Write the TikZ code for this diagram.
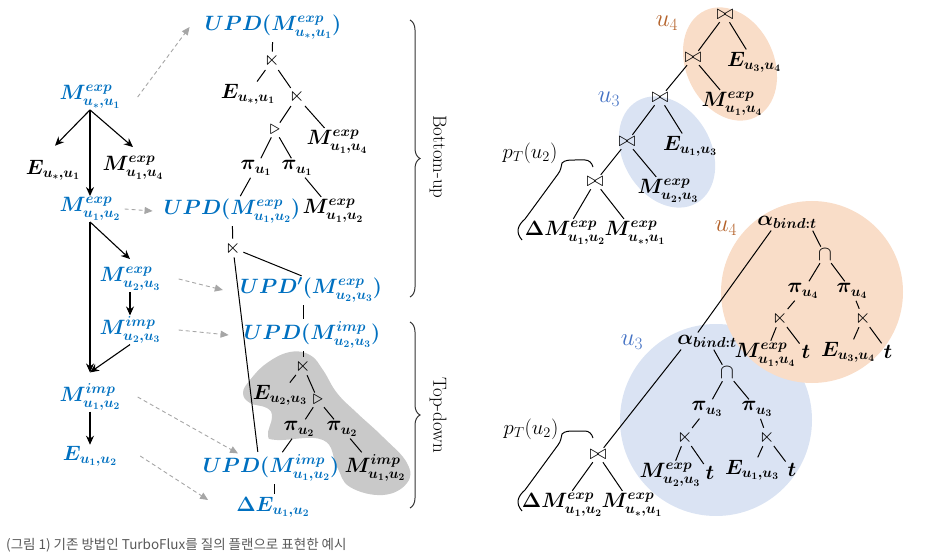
\documentclass[tikz,border=0pt]{standalone}
\usepackage{amssymb}
\usepackage{fontspec}
\newfontfamily\kofont{Noto Sans CJK KR}
\usetikzlibrary{arrows.meta, decorations.pathreplacing}
\definecolor{myblue}{HTML}{0070C0}
\definecolor{flowgray}{HTML}{A6A6A6}
\definecolor{blobgray}{HTML}{C9C9C9}
\definecolor{orfill}{HTML}{F9DDC8}
\definecolor{bufill}{HTML}{DAE3F3}
\definecolor{ufour}{HTML}{B4622A}
\definecolor{uthree}{HTML}{4472C4}
\definecolor{capgray}{HTML}{595959}
\tikzstyle{blu} = [text=myblue, inner sep=1pt, font=\fontsize{20}{24}\selectfont\boldmath]
\tikzstyle{blk} = [text=black, inner sep=1pt, font=\fontsize{20}{24}\selectfont\boldmath]
\tikzstyle{opnode} = [inner sep=1pt, font=\fontsize{20}{24}\selectfont]
\tikzstyle{ulabfour} = [text=ufour, inner sep=1pt, font=\fontsize{23}{26}\selectfont]
\tikzstyle{ulabthree} = [text=uthree, inner sep=1pt, font=\fontsize{23}{26}\selectfont]
\tikzstyle{ptlab} = [inner sep=1pt, font=\fontsize{22}{26}\selectfont]
\tikzstyle{sidelab} = [inner sep=1pt, font=\fontsize{19}{22}\selectfont]
\tikzstyle{dep} = [-{Stealth[length=9pt,width=8pt]}, line width=1.1pt]
\tikzstyle{flow} = [-{Triangle[length=8pt,width=7pt]}, flowgray, dashed, dash pattern=on 4pt off 3pt, line width=0.9pt]
\tikzstyle{br} = [line width=1pt, shorten <=1.5pt, shorten >=1.5pt]
\tikzstyle{bracket} = [decorate, decoration={brace, amplitude=10pt}, line width=1pt, black!80]

\begin{document}
\begin{tikzpicture}[x=1pt, y=-1pt]
\useasboundingbox (0,0) rectangle (926,556);

% backgrounds
\fill[blobgray] plot[smooth cycle, tension=0.7] coordinates {(243,393) (250,403) (267,408) (272,417) (268,435) (277,440) (323,440) (337,467) (350,487) (383,495) (407,483) (407,463) (383,437) (357,413) (337,393) (323,370) (310,355) (290,352) (267,363) (250,380)};
\fill[orfill, rotate around={25:(730,64)}] (730,64) ellipse (44 and 59);
\fill[bufill, rotate around={30:(667,152)}] (667,152) ellipse (44 and 59);
\fill[bufill] (716,420) circle (96);
\fill[orfill] (812,292) circle (91);

% left column
\node (mstar) [blu] at (90,97) {$M^{exp}_{u_*,u_1}$};
\node (estar) [blk] at (53,170) {$E_{u_*,u_1}$};
\node (m14a) [blk] at (133,168) {$M^{exp}_{u_1,u_4}$};
\node (m12) [blu] at (90,209) {$M^{exp}_{u_1,u_2}$};
\node (m23) [blu] at (130,279) {$M^{exp}_{u_2,u_3}$};
\node (i23) [blu] at (130,330) {$M^{imp}_{u_2,u_3}$};
\node (i12) [blu] at (90,397) {$M^{imp}_{u_1,u_2}$};
\node (e12) [blu] at (90,456) {$E_{u_1,u_2}$};

\draw[dep] (mstar.south) -- ([xshift=2pt,yshift=13pt]estar.north);
\draw[dep] (mstar.south) -- ([yshift=8pt]m14a.north);
\draw[dep] (mstar.south) -- (m12.north);
\draw[dep] (m12.south) -- ([yshift=10pt]i12.north);
\draw[dep] (m12.south) -- ([yshift=7pt]m23.north);
\draw[dep] (m23.south) -- (i23.north);
\draw[dep] (i23.south) -- ([yshift=10pt]i12.north);
\draw[dep] (i12.south) -- (e12.north);

% middle tree
\node (upda) [blu] at (273,27) {$UPD(M^{exp}_{u_*,u_1})$};
\node (sja) [opnode] at (272,61) {$\ltimes$};
\node (estr) [blk] at (248,94) {$E_{u_*,u_1}$};
\node (sjb) [opnode] at (297,97) {$\ltimes$};
\node (tra) [opnode] at (275,130) {$\triangleright$};
\node (m14b) [blk] at (337,142) {$M^{exp}_{u_1,u_4}$};
\node (pia) [blk] at (256,168) {$\pi_{u_1}$};
\node (pib) [blk] at (297,168) {$\pi_{u_1}$};
\node (upd12) [blu] at (232,211) {$UPD(M^{exp}_{u_1,u_2})$};
\node (m12b) [blk] at (333,211) {$M^{exp}_{u_1,u_2}$};
\node (sjc) [opnode] at (233,248) {$\ltimes$};
\node (updp) [blu] at (311,290) {$UPD'(M^{exp}_{u_2,u_3})$};
\node (upd23) [blu] at (312,335) {$UPD(M^{imp}_{u_2,u_3})$};
\node (sjd) [opnode] at (303,366) {$\ltimes$};
\node (e23) [blk] at (280,395) {$E_{u_2,u_3}$};
\node (trb) [opnode] at (318,400) {$\triangleright$};
\node (pic) [blk] at (299,429) {$\pi_{u_2}$};
\node (pid) [blk] at (342,429) {$\pi_{u_2}$};
\node (updimp) [blu] at (271,468) {$UPD(M^{imp}_{u_1,u_2})$};
\node (i12b) [blk] at (375,468) {$M^{imp}_{u_1,u_2}$};
\node (de) [blu] at (273,507) {$\Delta E_{u_1,u_2}$};

\draw[br] (upda) -- (sja);
\draw[br] (sja) -- (estr);
\draw[br] (sja) -- (sjb);
\draw[br] (sjb) -- (tra);
\draw[br] (sjb) -- (m14b);
\draw[br] (tra) -- (pia);
\draw[br] (tra) -- (pib);
\draw[br] (pia) -- (upd12);
\draw[br] (pib) -- (m12b);
\draw[br] (upd12) -- (sjc);
\draw[br] (sjc) -- ([xshift=-8pt]updp.north);
\draw[br] (sjc) -- ([xshift=-13pt]updimp.north);
\draw[br] ([xshift=-8pt]updp.south) -- ([xshift=-9pt]upd23.north);
\draw[br] ([xshift=-9pt]upd23.south) -- (sjd);
\draw[br] (sjd) -- (e23);
\draw[br] (sjd) -- (trb);
\draw[br] (trb) -- (pic);
\draw[br] (trb) -- (pid);
\draw[br] (pic) -- (updimp);
\draw[br] (pid) -- (i12b);
\draw[br] ([xshift=3pt]updimp.south) -- ([xshift=1pt]de.north);

% dashed links
\draw[flow] ([xshift=16pt]mstar.east) -- ([xshift=-14pt]upda.west);
\draw[flow] ([xshift=3pt]m12.east) -- ([xshift=-10pt]upd12.west);
\draw[flow] ([xshift=17pt]m23.east) -- ([xshift=-16pt]updp.west);
\draw[flow] ([xshift=17pt]i23.east) -- ([xshift=-14pt]upd23.west);
\draw[flow] ([xshift=16pt]i12.east) -- ([xshift=-33pt]updimp.north);
\draw[flow] ([xshift=22pt]e12.east) -- ([xshift=-27pt,yshift=7pt]de.west);

% braces
\draw[bracket] (410,20) -- (410,297);
\draw[bracket] (410,322) -- (410,508);
\node (bu) [sidelab, rotate=-90] at (438,157) {Bottom-up};
\node (tdn) [sidelab, rotate=-90] at (438,415) {Top-down};

% upper right tree
\node (ja) [opnode] at (725,15) {$\bowtie$};
\node (jb) [opnode] at (693,58) {$\bowtie$};
\node (e34a) [blk] at (754,62) {$E_{u_3,u_4}$};
\node (m14c) [blk] at (732,104) {$M^{exp}_{u_1,u_4}$};
\node (jc) [opnode] at (660,98) {$\bowtie$};
\node (e13a) [blk] at (690,146) {$E_{u_1,u_3}$};
\node (jd) [opnode] at (627,142) {$\bowtie$};
\node (m23a) [blk] at (668,191) {$M^{exp}_{u_2,u_3}$};
\node (je) [opnode] at (595,182) {$\bowtie$};
\node (dma) [blk] at (565,233) {$\Delta M^{exp}_{u_1,u_2}$};
\node (msa) [blk] at (635,233) {$M^{exp}_{u_*,u_1}$};
\node (u4a) [ulabfour] at (667,23) {$u_4$};
\node (u3a) [ulabthree] at (609,99) {$u_3$};
\node (pta) [ptlab] at (530,153) {$p_T(u_2)$};

\draw[br] (ja) -- (jb);
\draw[br] (ja) -- (e34a);
\draw[br] (jb) -- (jc);
\draw[br] (jb) -- (m14c);
\draw[br] (jc) -- (jd);
\draw[br] (jc) -- (e13a);
\draw[br] (jd) -- (je);
\draw[br] (jd) -- (m23a);
\draw[br] (je) -- (dma);
\draw[br] (je) -- (msa);

% lower right tree
\node (ala) [blk] at (787,222) {$\alpha_{bind:t}$};
\node (ca) [opnode] at (825,255) {$\cap$};
\node (p4a) [blk] at (803,291) {$\pi_{u_4}$};
\node (p4b) [blk] at (852,291) {$\pi_{u_4}$};
\node (sje) [opnode] at (780,318) {$\ltimes$};
\node (sjf) [opnode] at (863,318) {$\ltimes$};
\node (m14d) [blk] at (765,355) {$M^{exp}_{u_1,u_4}$};
\node (ta) [blk] at (806,352) {$t$};
\node (e34b) [blk] at (848,352) {$E_{u_3,u_4}$};
\node (tb) [blk] at (888,352) {$t$};
\node (alb) [blk] at (707,341) {$\alpha_{bind:t}$};
\node (cb) [opnode] at (727,373) {$\cap$};
\node (p3a) [blk] at (707,409) {$\pi_{u_3}$};
\node (p3b) [blk] at (757,409) {$\pi_{u_3}$};
\node (sjg) [opnode] at (685,437) {$\ltimes$};
\node (sjh) [opnode] at (767,437) {$\ltimes$};
\node (m23b) [blk] at (670,475) {$M^{exp}_{u_2,u_3}$};
\node (tc) [blk] at (710,473) {$t$};
\node (e13b) [blk] at (752,470) {$E_{u_1,u_3}$};
\node (td) [blk] at (792,470) {$t$};
\node (jf) [opnode] at (598,455) {$\bowtie$};
\node (dmb) [blk] at (562,505) {$\Delta M^{exp}_{u_1,u_2}$};
\node (msb) [blk] at (632,505) {$M^{exp}_{u_*,u_1}$};
\node (u4b) [ulabfour] at (726,228) {$u_4$};
\node (u3b) [ulabthree] at (632,342) {$u_3$};
\node (ptb) [ptlab] at (531,429) {$p_T(u_2)$};

\draw[br] ([xshift=-15pt]ala.south) -- ([xshift=-10pt]alb.north);
\draw[br] ([xshift=25pt]ala.south) -- (ca);
\draw[br] (ca) -- (p4a);
\draw[br] (ca) -- (p4b);
\draw[br] (p4a) -- (sje);
\draw[br] (p4b) -- (sjf);
\draw[br] (sje) -- (m14d);
\draw[br] (sje) -- (ta);
\draw[br] (sjf) -- (e34b);
\draw[br] (sjf) -- (tb);
\draw[br] ([xshift=-25pt]alb.south) -- (jf);
\draw[br] ([xshift=6pt]alb.south) -- (cb);
\draw[br] (cb) -- (p3a);
\draw[br] (cb) -- (p3b);
\draw[br] (p3a) -- (sjg);
\draw[br] (p3b) -- (sjh);
\draw[br] (sjg) -- (m23b);
\draw[br] (sjg) -- (tc);
\draw[br] (sjh) -- (e13b);
\draw[br] (sjh) -- (td);
\draw[br] (jf) -- (dmb);
\draw[br] (jf) -- (msb);

% p_T braces
\foreach \dy in {0,271}
  \draw[line width=1pt, yshift=-\dy pt] (522,240) .. controls (515,232) and (518,225) .. (525,219) -- (558,174) .. controls (561,170) and (561,167) .. (562,163) .. controls (565,160) and (569,160) .. (575,160) -- (585,160) .. controls (589,160) and (592,163) .. (593,167);

% caption
\node (cap) [anchor=west, inner sep=0pt, text=capgray, font=\kofont\fontsize{13.5}{16}\selectfont] at (6,545) {(그림 1) 기존 방법인 TurboFlux를 질의 플랜으로 표현한 예시};
\end{tikzpicture}
\end{document}
